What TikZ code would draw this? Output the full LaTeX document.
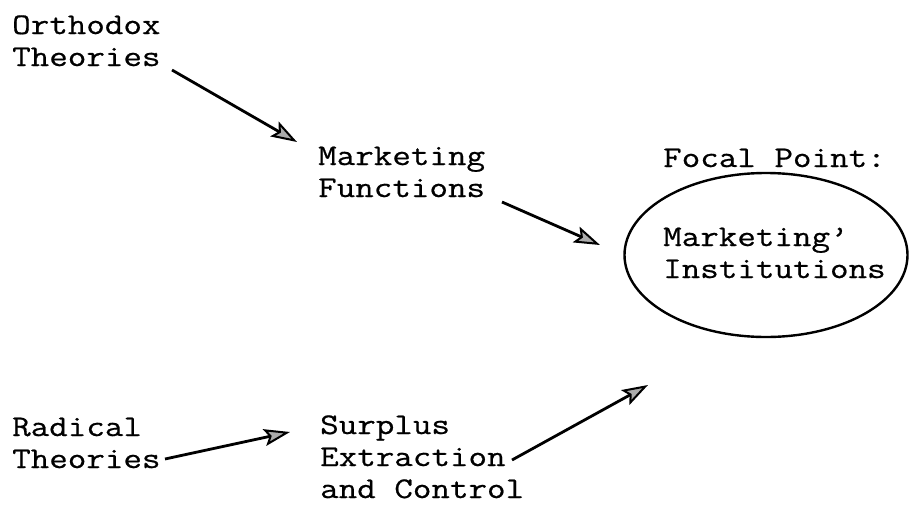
\documentclass[tikz,border=0pt]{standalone}
\usepackage{fontspec}
\newfontfamily\tw[FakeStretch=1.2,FakeBold=0.6]{Latin Modern Mono}
\usetikzlibrary{arrows.meta,shapes.geometric}
\begin{document}
\begin{tikzpicture}[x=1pt,y=-1pt,
  lbl/.style={anchor=base west, align=left, inner sep=0pt, font=\tw\fontsize{30}{32}\selectfont},
  arr/.style={line width=2.8pt, -{Stealth[length=26pt,width=17pt,inset=5pt,fill=gray!65,line width=2pt]}},
  focalring/.style={draw, ellipse, line width=2.4pt, minimum width=283pt, minimum height=164pt, inner sep=0pt}]
\useasboundingbox (0,0) rectangle (911,504);
% text nodes (anchor = baseline of the last line)
\node[lbl] (ortho) at (12,66) {Orthodox\\Theories};
\node[lbl] (func) at (318,197) {Marketing\\Functions};
\node[lbl] (fp) at (663,167) {Focal Point:};
\node[focalring] (focal) at (766,255) {};
\node[lbl] (inst) at (663,278) {Marketing’\\Institutions};
\node[lbl] (radical) at (12,468) {Radical\\Theories};
\node[lbl] (surplus) at (320,498) {Surplus\\Extraction\\and Control};
% connector ends
\coordinate (ortho-out) at (172,70);
\coordinate (func-in) at (297,142);
\coordinate (func-out) at (502,202);
\coordinate (focal-in1) at (600,245);
\coordinate (radical-out) at (165,459);
\coordinate (surplus-in) at (290,432);
\coordinate (surplus-out) at (512,460);
\coordinate (focal-in2) at (648,385);
% connectors
\draw[arr] (ortho-out) -- (func-in);
\draw[arr] (func-out) -- (focal-in1);
\draw[arr] (radical-out) -- (surplus-in);
\draw[arr] (surplus-out) -- (focal-in2);
\end{tikzpicture}
\end{document}
